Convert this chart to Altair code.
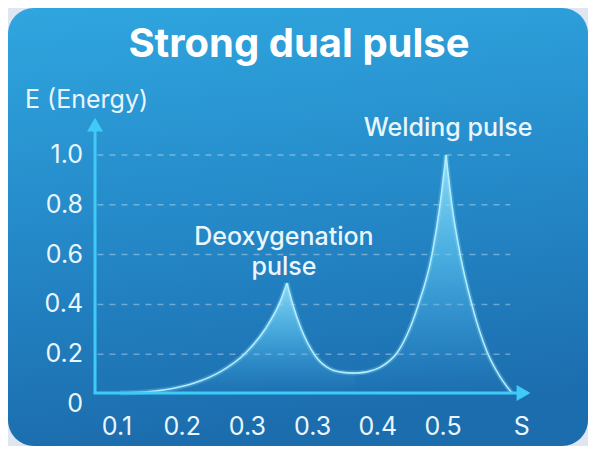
import altair as alt
import pandas as pd

# ---- data ----
# curve segments (x in s, y = energy)
seg_rise1_x = [0.1046, 0.1429, 0.1813, 0.2196, 0.2580, 0.2963, 0.3270, 0.3500, 0.3607]
seg_rise1_y = [0.044, 0.048, 0.060, 0.085, 0.129, 0.203, 0.300, 0.410, 0.486]
seg_fall1_x = [0.3607, 0.3699, 0.3822, 0.4037, 0.4267, 0.4466, 0.4650]
seg_fall1_y = [0.486, 0.398, 0.304, 0.195, 0.141, 0.127, 0.124]
seg_rise2_x = [0.4650, 0.4850, 0.5034, 0.5187, 0.5294, 0.5448, 0.5617, 0.5831, 0.5954, 0.6046]
seg_rise2_y = [0.124, 0.130, 0.147, 0.175, 0.205, 0.278, 0.395, 0.600, 0.800, 1.000]
seg_fall2_x = [0.6046, 0.6138, 0.6261, 0.6445, 0.6675, 0.6874, 0.7058]
seg_fall2_y = [1.000, 0.796, 0.604, 0.397, 0.210, 0.110, 0.044]

y_ticks = [0, 0.2, 0.4, 0.6, 0.8, 1.0]
y_tick_labels = ["0", "0.2", "0.4", "0.6", "0.8", "1.0"]
grid_vals = [0.2, 0.4, 0.6, 0.8, 1.0]
x_ticks = [0.1, 0.2, 0.3, 0.4, 0.5, 0.6]
x_tick_labels = ["0.1", "0.2", "0.3", "0.3", "0.4", "0.5"]

title_text = "Strong dual pulse"
y_title = "E (Energy)"
x_title = "S"
peak_labels = ["Deoxygenation", "pulse", "Welding pulse"]
peak_label_x = [0.356, 0.356, 0.6077]
peak_label_y = [0.671, 0.552, 1.108]

# ---- frames ----
rows = []
for name, xs, ys in [("a", seg_rise1_x, seg_rise1_y), ("b", seg_fall1_x, seg_fall1_y),
                     ("c", seg_rise2_x, seg_rise2_y), ("d", seg_fall2_x, seg_fall2_y)]:
    for x, y in zip(xs, ys):
        rows.append({"seg": name, "x": x, "y": y})
curve = pd.DataFrame(rows)
ytick_df = pd.DataFrame({"v": y_ticks, "t": y_tick_labels})
grid_df = pd.DataFrame({"v": grid_vals})
xtick_df = pd.DataFrame({"v": x_ticks, "t": x_tick_labels})
peak_df = pd.DataFrame({"t": peak_labels, "x": peak_label_x, "y": peak_label_y})

XS = alt.Scale(domain=[-0.0672, 0.8224], nice=False, zero=False)
YS = alt.Scale(domain=[-0.1687, 1.5904], nice=False, zero=False)
X0, Y0 = 0.0663, 0.044  # axis origin

FONT = "Inter"
LABEL = "#eaf6fd"
AXIS = "#3fcbf5"

card = alt.Chart(pd.DataFrame({"k": [0]})).mark_rect(
    cornerRadius=26,
    fill=alt.Gradient(gradient="linear", x1=0, y1=0, x2=0.15, y2=1,
                      stops=[alt.GradientStop(offset=0, color="#2fa6df"),
                             alt.GradientStop(offset=0.5, color="#258ac9"),
                             alt.GradientStop(offset=1, color="#1c6dae")]),
).encode(x=alt.value(0), x2=alt.value("width"), y=alt.value(0), y2=alt.value("height"))

grid = alt.Chart(grid_df).mark_rule(color="white", opacity=0.35, strokeWidth=1.5,
                                    strokeDash=[6, 6]).encode(
    y=alt.Y("v:Q", scale=YS, axis=None),
    x=alt.datum(0.07, scale=XS, axis=None), x2=alt.datum(0.703))

area = alt.Chart(curve).mark_area(
    interpolate="monotone",
    fill=alt.Gradient(gradient="linear", x1=0, y1=0, x2=0, y2=1,
                      stops=[alt.GradientStop(offset=0, color="rgba(160,232,253,0.85)"),
                             alt.GradientStop(offset=0.45, color="rgba(100,205,247,0.55)"),
                             alt.GradientStop(offset=1, color="rgba(70,175,235,0.0)")]),
).encode(x=alt.X("x:Q", scale=XS), y=alt.Y("y:Q", scale=YS), y2=alt.datum(Y0),
         detail="seg:N")

glow = alt.Chart(curve).mark_line(interpolate="monotone", color="#8fe2fb",
                                  strokeWidth=5, opacity=0.25).encode(
    x=alt.X("x:Q", scale=XS), y=alt.Y("y:Q", scale=YS), detail="seg:N")
line = alt.Chart(curve).mark_line(interpolate="monotone", color="#b5ecfc",
                                  strokeWidth=1.6).encode(
    x=alt.X("x:Q", scale=XS), y=alt.Y("y:Q", scale=YS), detail="seg:N")

yaxis = alt.Chart(pd.DataFrame({"k": [0]})).mark_rule(color=AXIS, strokeWidth=3).encode(
    x=alt.datum(X0, scale=XS), y=alt.datum(Y0 - 0.004, scale=YS), y2=alt.datum(1.11))
xaxis = alt.Chart(pd.DataFrame({"k": [0]})).mark_rule(color=AXIS, strokeWidth=3).encode(
    y=alt.datum(Y0, scale=YS), x=alt.datum(X0 - 0.002, scale=XS), x2=alt.datum(0.715))
yarrow = alt.Chart(pd.DataFrame({"k": [0]})).mark_point(
    shape="triangle-up", filled=True, color=AXIS, opacity=1, size=256).encode(
    x=alt.datum(X0, scale=XS), y=alt.datum(1.122, scale=YS))
xarrow = alt.Chart(pd.DataFrame({"k": [0]})).mark_point(
    shape="triangle-right", filled=True, color=AXIS, opacity=1, size=256).encode(
    x=alt.datum(0.7235, scale=XS), y=alt.datum(Y0, scale=YS))

ylabels = alt.Chart(ytick_df).mark_text(align="right", baseline="middle", font=FONT,
                                        fontSize=25, color=LABEL).encode(
    x=alt.datum(0.0479, scale=XS), y=alt.Y("v:Q", scale=YS), text="t:N")
xlabels = alt.Chart(xtick_df).mark_text(align="center", baseline="middle", font=FONT,
                                        fontSize=25, color=LABEL).encode(
    x=alt.X("v:Q", scale=XS), y=alt.datum(-0.092, scale=YS), text="t:N")
xtitle = alt.Chart(pd.DataFrame({"t": [x_title]})).mark_text(
    align="center", baseline="middle", font=FONT, fontSize=25, color=LABEL).encode(
    x=alt.datum(0.721, scale=XS), y=alt.datum(-0.092, scale=YS), text="t:N")
ytitle = alt.Chart(pd.DataFrame({"t": [y_title]})).mark_text(
    align="left", baseline="middle", font=FONT, fontSize=25, color=LABEL).encode(
    x=alt.datum(-0.0411, scale=XS), y=alt.datum(1.221, scale=YS), text="t:N")
peaks = alt.Chart(peak_df).mark_text(align="center", baseline="middle", font=FONT,
                                     fontSize=25, fontWeight=500, color=LABEL).encode(
    x=alt.X("x:Q", scale=XS), y=alt.Y("y:Q", scale=YS), text="t:N")
title = alt.Chart(pd.DataFrame({"t": [title_text]})).mark_text(
    align="center", baseline="middle", font=FONT, fontSize=40, fontWeight="bold",
    color="white").encode(
    x=alt.datum(0.3791, scale=XS), y=alt.datum(1.44, scale=YS), text="t:N")

chart = alt.layer(card, grid, area, glow, line, yaxis, xaxis, yarrow, xarrow,
                  ylabels, xlabels, xtitle, ytitle, peaks, title).properties(
    width=580, height=438, background="#dfe6f2", padding=0,
    autosize=alt.AutoSizeParams(type="none"),
).configure_view(stroke=None)

chart.save("out.html", embed_options={"renderer": "svg", "actions": False})
